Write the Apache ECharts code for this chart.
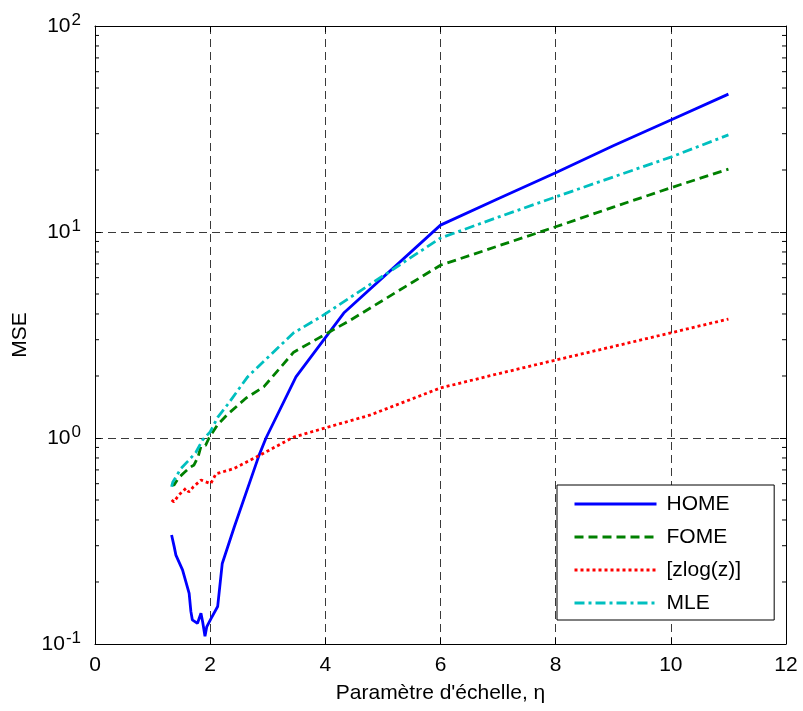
<!DOCTYPE html>
<html><head><meta charset="utf-8">
<script src="https://cdn.jsdelivr.net/npm/echarts@6/dist/echarts.min.js"></script>
<style>html,body{margin:0;padding:0;background:#fff}#c{width:803px;height:711px}</style>
</head><body><div id="c"></div>
<script>
var homeX = [1.33,1.375,1.405,1.52,1.635,1.665,1.69,1.78,1.84,1.87,1.91,1.94,2.01,2.13,2.21,2.42,2.85,2.97,3.49,4.32,6,7,8,9,10,11];
var homeY = [0.338,0.297,0.27,0.229,0.176,0.144,0.131,0.126,0.141,0.128,0.109,0.121,0.132,0.152,0.246,0.371,0.826,1.0,1.98,4.04,10.8,14.5,19.4,26.2,35,46.7];
var fomeX = [1.33,1.37,1.45,1.55,1.65,1.72,1.79,1.84,1.92,1.98,2.13,2.3,2.62,2.93,3.45,4.44,6,7,8,9,10,11];
var fomeY = [0.60,0.59,0.64,0.68,0.72,0.74,0.81,0.91,0.92,1.0,1.16,1.3,1.56,1.77,2.61,3.74,6.9,8.55,10.6,13.2,16.4,20.2];
var zlogX = [1.33,1.35,1.37,1.46,1.58,1.63,1.71,1.84,2.01,2.10,2.18,2.41,2.88,3.45,4.0,4.77,6,7,8,9,10,11];
var zlogY = [0.50,0.51,0.49,0.53,0.57,0.547,0.58,0.625,0.60,0.67,0.68,0.71,0.83,1.01,1.12,1.29,1.75,2.05,2.39,2.78,3.24,3.78];
var mleX = [1.33,1.35,1.49,1.61,1.75,1.87,2.0,2.13,2.3,2.65,3.45,3.92,6,7,8,9,10,11];
var mleY = [0.58,0.61,0.71,0.77,0.85,0.98,1.07,1.26,1.45,1.98,3.24,3.87,9.35,11.8,14.8,18.5,23.1,29.6];
var seriesNames = ['HOME','FOME','[zlog(z)]','MLE'];
var xTicks = [0,2,4,6,8,10,12];
var yDecades = [0.1,1,10,100];

function pairs(xs, ys){ return xs.map(function(x,i){return [x, ys[i]];}); }
var minorVals = [];
for (var d=0; d<yDecades.length-1; d++){ for (var m=2;m<=9;m++){ minorVals.push([0, yDecades[d]*m]); } }

var FONT = 'Liberation Sans, Arial, sans-serif';
var chart = echarts.init(document.getElementById('c'), null, {renderer:'canvas'});
var gridLine = {show:true, lineStyle:{color:'#3a3a3a', type:[8,5], width:1}};
var option = {
  animation:false,
  backgroundColor:'#fff',
  textStyle:{fontFamily:FONT},
  grid:{left:95, right:17, top:26, bottom:67, containLabel:false},
  legend:{
    data:seriesNames, orient:'vertical', left:557, top:485,
    backgroundColor:'#fff', borderColor:'#000', borderWidth:1, borderRadius:0,
    padding:[7,33,5,16], itemWidth:82, itemHeight:14, itemGap:9,
    itemStyle:{opacity:0},
    lineStyle:{width:3},
    textStyle:{fontSize:21, color:'#000', fontFamily:FONT, lineHeight:24, padding:[0,0,0,5]}
  },
  xAxis:[{
    type:'value', min:0, max:12, interval:2, position:'bottom',
    name:"Paramètre d'échelle, η", nameLocation:'middle', nameGap:39,
    nameTextStyle:{fontSize:21, color:'#000', fontFamily:FONT},
    axisLine:{show:true, onZero:false, lineStyle:{color:'#000', width:1}},
    axisTick:{show:true, inside:true, length:6, lineStyle:{color:'#000'}},
    axisLabel:{fontSize:21, color:'#000', margin:11, fontFamily:FONT},
    splitLine:gridLine
  },{
    type:'value', min:0, max:12, interval:2, position:'top',
    axisLine:{show:true, onZero:false, lineStyle:{color:'#000', width:1}},
    axisTick:{show:true, inside:true, length:6, lineStyle:{color:'#000'}},
    axisLabel:{show:false}, splitLine:{show:false}
  }],
  yAxis:[{
    type:'log', logBase:10, min:0.1, max:100, position:'left',
    name:'MSE', nameLocation:'middle', nameGap:62,
    nameTextStyle:{fontSize:21, color:'#000', fontFamily:FONT},
    axisLine:{show:true, onZero:false, lineStyle:{color:'#000', width:1}},
    axisTick:{show:true, inside:true, length:6, lineStyle:{color:'#000'}},
    axisLabel:{color:'#000', margin:14, fontFamily:FONT,
      formatter:function(v){ var e=Math.round(Math.log10(v)); return '{b|10}{s|'+e+'}'; },
      rich:{b:{fontSize:21, lineHeight:28, verticalAlign:'middle', color:'#000', fontFamily:FONT},
            s:{fontSize:17, lineHeight:9, verticalAlign:'top', color:'#000', fontFamily:FONT, padding:[0,0,0,1]}}
    },
    splitLine:gridLine
  },{
    type:'log', logBase:10, min:0.1, max:100, position:'right',
    axisLine:{show:true, onZero:false, lineStyle:{color:'#000', width:1}},
    axisTick:{show:true, inside:true, length:6, lineStyle:{color:'#000'}},
    axisLabel:{show:false}, splitLine:{show:false}
  }],
  series:[
    {name:'HOME', type:'line', data:pairs(homeX,homeY), showSymbol:false, symbol:'none', z:3,
     lineStyle:{color:'#0000ff', width:2.8, type:'solid'}, itemStyle:{color:'#0000ff'}},
    {name:'FOME', type:'line', data:pairs(fomeX,fomeY), showSymbol:false, symbol:'none', z:3,
     lineStyle:{color:'#008000', width:2.8, type:[9,5]}, itemStyle:{color:'#008000'}},
    {name:'[zlog(z)]', type:'line', data:pairs(zlogX,zlogY), showSymbol:false, symbol:'none', z:3,
     lineStyle:{color:'#ff0000', width:2.8, type:[3,3]}, itemStyle:{color:'#ff0000'}},
    {name:'MLE', type:'line', data:pairs(mleX,mleY), showSymbol:false, symbol:'none', z:3,
     lineStyle:{color:'#00bfbf', width:2.8, type:[10,4,3,4]}, itemStyle:{color:'#00bfbf'}},
    {name:'minorTicks', type:'custom', data:minorVals, z:5, silent:true, clip:false,
     renderItem:function(params, api){
       var v = api.value(1);
       var l = api.coord([0, v]); var r = api.coord([12, v]);
       return {type:'group', children:[
         {type:'line', shape:{x1:l[0], y1:l[1], x2:l[0]+4, y2:l[1]}, style:{stroke:'#000', lineWidth:1}},
         {type:'line', shape:{x1:r[0], y1:r[1], x2:r[0]-4, y2:r[1]}, style:{stroke:'#000', lineWidth:1}}
       ]};
     }}
  ]
};
chart.setOption(option);
</script></body></html>
